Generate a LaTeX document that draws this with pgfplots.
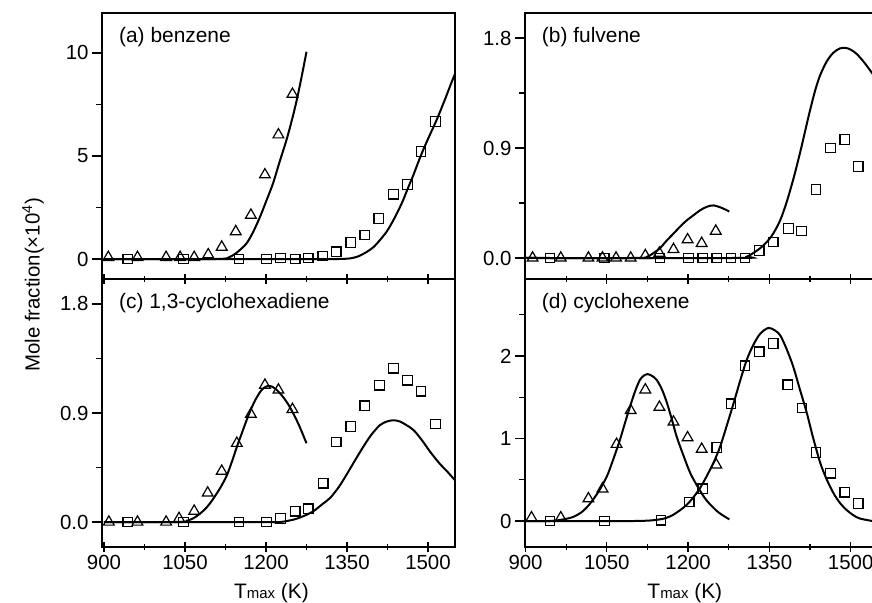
\documentclass[border=0pt]{standalone}
\usepackage{fontspec}
\setmainfont{Liberation Sans}
\usepackage{pgfplots}
\pgfplotsset{compat=1.18}

\pgfplotsset{
  panel/.style={
    scale only axis,
    axis line style={line width=1.6bp},
    xtick={900,1050,1200,1350,1500},
    minor xtick={975,1125,1275,1425},
    xtick pos=lower, ytick pos=left,
    xtick align=center, ytick align=outside,
    major tick length=10bp, minor tick length=6bp,
    every tick/.style={black, line width=1.3bp},
    tick label style={font=\fontsize{20.5}{24}\selectfont},
    clip=true,
  },
  sq/.style={only marks, mark=square, mark size=4.8bp, mark options={line width=1.2bp, solid, black}},
  tri/.style={only marks, mark=triangle, mark size=6.2bp, mark options={line width=1.2bp, solid, black}},
  fit/.style={no marks, black, line width=2bp, smooth},
}
\tikzset{plab/.style={anchor=north west, inner sep=0pt, font=\fontsize{21}{25}\selectfont}}

\begin{document}
\begin{tikzpicture}
\useasboundingbox (0bp,0bp) rectangle (872bp,603bp);

% (a) benzene
\begin{axis}[panel, at={(102bp,324bp)}, anchor=south west, width=353bp, height=266bp,
  xmin=896.3, xmax=1550, ymin=-0.97, ymax=11.94,
  xticklabels={},
  ytick={0,5,10}, yticklabels={0,5,10}, minor ytick={2.5,7.5}]
\addplot[fit] coordinates {(900,0) (1100,0) (1120,0.01) (1127,0.03) (1140,0.2) (1150,0.4) (1164,0.76) (1176,1.3) (1189,2.05) (1201,2.85) (1213,3.67) (1225,4.7) (1238,5.78) (1248,6.75) (1257,7.72) (1266,8.85) (1275,10.06)};
\addplot[fit] coordinates {(900,0) (1300,0) (1330,0) (1345,0.01) (1356,0.03) (1370,0.12) (1387,0.35) (1400,0.6) (1411,0.92) (1424,1.35) (1436,1.89) (1445,2.35) (1454,2.86) (1463,3.45) (1473,4.08) (1482,4.7) (1491,5.29) (1503,6.0) (1516,6.75) (1530,7.65) (1544,8.6) (1555,9.3)};
\addplot[tri] coordinates {(908,0.08) (962,0.08) (1015,0.08) (1041,0.08) (1067,0.08) (1093,0.21) (1118,0.58) (1144,1.33) (1172,2.13) (1198,4.09) (1223,6.03) (1249,8.0)};
\addplot[sq] coordinates {(944,0) (1047,0) (1150,0) (1201,0) (1227,0.05) (1254,0) (1278,0.05) (1305,0.15) (1330,0.35) (1357,0.8) (1383,1.17) (1409,1.97) (1436,3.15) (1462,3.62) (1487,5.21) (1514,6.67)};
\node[plab] at (rel axis cs:0.048,0.947) {(a) benzene};
\end{axis}

% (b) fulvene
\begin{axis}[panel, at={(525bp,324bp)}, anchor=south west, width=349bp, height=266bp,
  xmin=899, xmax=1543, ymin=-0.172, ymax=2.005,
  xticklabels={},
  ytick={0,0.9,1.8}, yticklabels={0.0,0.9,1.8}, minor ytick={0.45,1.35}]
\addplot[fit] coordinates {(900,0) (1100,0) (1124,0.01) (1136,0.04) (1148,0.08) (1160,0.14) (1173,0.2) (1186,0.26) (1198,0.31) (1210,0.35) (1222,0.39) (1235,0.42) (1247,0.43) (1262,0.41) (1276,0.38)};
\addplot[fit] coordinates {(900,0) (1290,0) (1308,0.01) (1320,0.04) (1333,0.08) (1345,0.13) (1357,0.2) (1370,0.31) (1382,0.46) (1395,0.66) (1407,0.87) (1416,1.04) (1425,1.21) (1435,1.38) (1444,1.5) (1456,1.61) (1468,1.68) (1480,1.715) (1490,1.72) (1500,1.705) (1511,1.67) (1525,1.6) (1540,1.51) (1550,1.45)};
\addplot[tri] coordinates {(913,0) (965,0) (1016,0) (1042,0) (1067,0) (1094,0) (1121,0.02) (1147,0.04) (1173,0.07) (1199,0.15) (1225,0.12) (1251,0.22)};
\addplot[sq] coordinates {(945,0) (1045,0) (1148,0) (1201,0) (1227,0) (1253,0) (1279,0) (1305,0) (1331,0.06) (1357,0.13) (1385,0.24) (1409,0.22) (1436,0.56) (1463,0.9) (1489,0.97) (1514,0.75)};
\node[plab] at (rel axis cs:0.048,0.947) {(b) fulvene};
\end{axis}

% (c) 1,3-cyclohexadiene
\begin{axis}[panel, at={(102bp,56bp)}, anchor=south west, width=353bp, height=268bp,
  xmin=896.3, xmax=1550, ymin=-0.206, ymax=2.006,
  xticklabels={900,1050,1200,1350,1500},
  ytick={0,0.9,1.8}, yticklabels={0.0,0.9,1.8}, minor ytick={0.45,1.35},
  xlabel={T{\fontsize{15}{15}\selectfont max} (K)},
  xlabel style={at={(axis description cs:0.48,0)}, anchor=base, yshift=-51bp, inner sep=0pt, font=\fontsize{21}{25}\selectfont}]
\addplot[fit] coordinates {(900,0) (1040,0) (1053,0.01) (1065,0.03) (1078,0.07) (1090,0.12) (1102,0.19) (1115,0.28) (1127,0.38) (1137,0.5) (1146,0.62) (1155,0.73) (1164,0.84) (1173,0.94) (1183,1.03) (1192,1.09) (1201,1.12) (1210,1.12) (1220,1.09) (1232,1.03) (1244,0.95) (1260,0.81) (1275,0.65)};
\addplot[fit] coordinates {(900,0) (1200,0) (1226,0) (1251,0.02) (1270,0.05) (1288,0.09) (1305,0.15) (1319,0.2) (1335,0.29) (1349,0.39) (1365,0.51) (1380,0.62) (1395,0.72) (1411,0.8) (1424,0.83) (1436,0.84) (1448,0.83) (1460,0.8) (1473,0.76) (1488,0.68) (1504,0.58) (1522,0.48) (1535,0.42) (1547,0.36) (1555,0.32)};
\addplot[tri] coordinates {(909,0) (962,0) (1015,0) (1039,0.03) (1067,0.09) (1092,0.24) (1118,0.42) (1146,0.65) (1172,0.89) (1198,1.13) (1223,1.09) (1249,0.93)};
\addplot[sq] coordinates {(944,0) (1047,0) (1150,0) (1201,0) (1227,0.03) (1254,0.09) (1278,0.11) (1306,0.32) (1330,0.66) (1357,0.79) (1383,0.96) (1410,1.13) (1436,1.27) (1462,1.17) (1487,1.08) (1514,0.81)};
\node[plab] at (rel axis cs:0.048,0.948) {(c) 1,3-cyclohexadiene};
\end{axis}

% (d) cyclohexene
\begin{axis}[panel, at={(525bp,56bp)}, anchor=south west, width=349bp, height=268bp,
  xmin=899, xmax=1543, ymin=-0.315, ymax=2.933,
  xticklabels={900,1050,1200,1350,1500},
  ytick={0,1,2}, yticklabels={0,1,2}, minor ytick={0.5,1.5,2.5},
  xlabel={T{\fontsize{15}{15}\selectfont max} (K)},
  xlabel style={at={(axis description cs:0.458,0)}, anchor=base, yshift=-51bp, inner sep=0pt, font=\fontsize{21}{25}\selectfont}]
\addplot[fit] coordinates {(900,0) (945,0) (970,0.02) (988,0.05) (1004,0.11) (1019,0.21) (1035,0.36) (1050,0.54) (1062,0.75) (1074,0.98) (1084,1.2) (1093,1.39) (1102,1.57) (1111,1.71) (1118,1.76) (1125,1.78) (1133,1.76) (1142,1.71) (1152,1.59) (1161,1.43) (1170,1.23) (1179,1.02) (1191,0.8) (1204,0.58) (1219,0.4) (1234,0.25) (1255,0.11) (1276,0.02)};
\addplot[fit] coordinates {(900,0) (1100,0) (1148,0.02) (1168,0.06) (1185,0.13) (1198,0.2) (1210,0.29) (1222,0.4) (1234,0.54) (1247,0.71) (1259,0.9) (1271,1.15) (1284,1.43) (1296,1.7) (1308,1.95) (1320,2.13) (1333,2.27) (1348,2.34) (1360,2.31) (1370,2.25) (1382,2.08) (1394,1.87) (1406,1.6) (1419,1.31) (1431,1.0) (1444,0.7) (1456,0.5) (1468,0.34) (1480,0.22) (1493,0.13) (1505,0.07) (1517,0.03) (1540,0)};
\addplot[tri] coordinates {(911,0.04) (965,0.04) (1016,0.27) (1042,0.39) (1068,0.93) (1094,1.34) (1121,1.59) (1147,1.38) (1173,1.2) (1199,1.01) (1225,0.87) (1252,0.68)};
\addplot[sq] coordinates {(945,0) (1046,0) (1150,0.01) (1202,0.23) (1227,0.39) (1253,0.89) (1279,1.42) (1305,1.88) (1331,2.05) (1357,2.15) (1384,1.65) (1410,1.37) (1436,0.83) (1463,0.58) (1489,0.35) (1514,0.21)};
\node[plab] at (rel axis cs:0.048,0.948) {(d) cyclohexene};
\end{axis}

\node[rotate=90, anchor=center, inner sep=0pt, font=\fontsize{20.5}{25}\selectfont] at (33bp,318bp) {Mole fraction(×10\textsuperscript{4})};
\end{tikzpicture}
\end{document}
